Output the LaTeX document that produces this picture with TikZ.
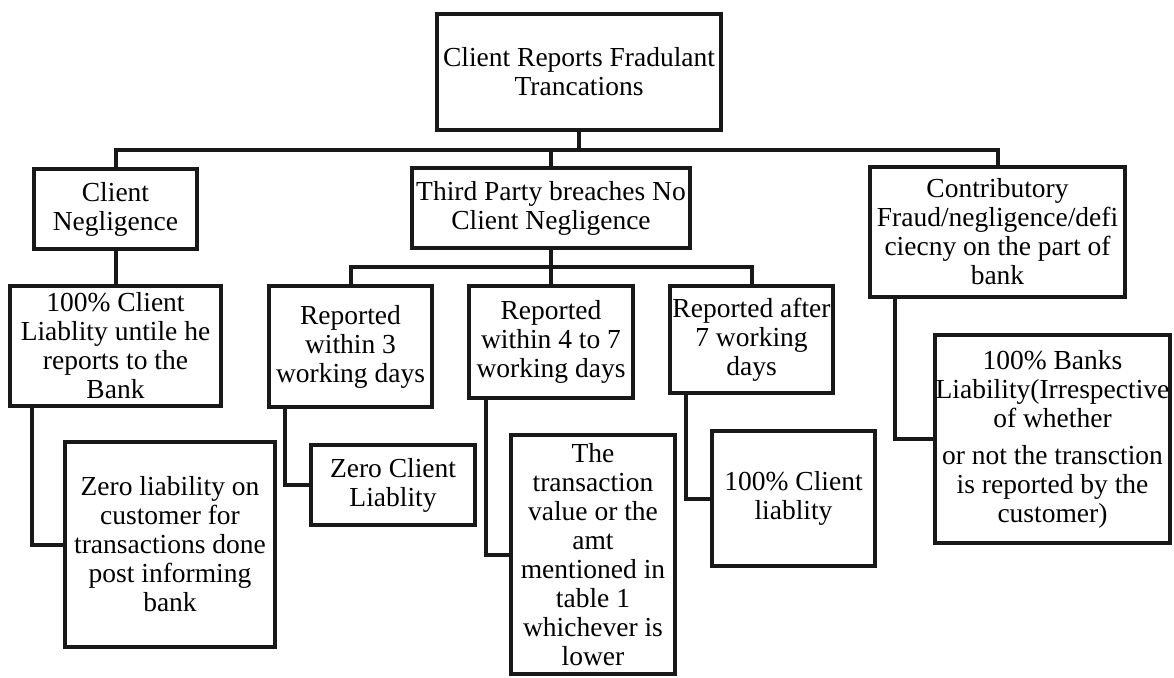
\documentclass[tikz,border=0pt]{standalone}
\usepackage{fontspec}
\setmainfont{Liberation Serif}
\usetikzlibrary{positioning}

\begin{document}
\begin{tikzpicture}[x=1pt, y=-1pt,
    box/.style={draw=black!90, line width=4pt, fill=white, align=center, inner sep=1pt,
      font=\fontsize{27.5}{29}\selectfont},
    link/.style={draw=black!90, line width=4pt}]
    \useasboundingbox[fill=white] (0,0) rectangle (1174,677);
    \node[box, minimum width=284pt, minimum height=116pt] (root) at (579,72) {Client Reports Fradulant\\Trancations};
    \node[box, minimum width=163pt, minimum height=80pt] (neg) at (115.5,209) {Client\\Negligence};
    \node[box, minimum width=278pt, minimum height=80pt] (third) at (551,208) {Third Party breaches No\\Client Negligence};
    \node[box, minimum width=255pt, minimum height=130pt] (contrib) at (997.5,232) {Contributory\\Fraud/negligence/defi\\ciecny on the part of\\bank};
    \node[box, minimum width=211pt, minimum height=120pt] (lia) at (115.5,346) {100\% Client\\Liablity untile he\\reports to the\\Bank};
    \node[box, minimum width=210pt, minimum height=205pt] (zero) at (170,544.5) {Zero liability on\\customer for\\transactions done\\post informing\\bank};
    \node[box, minimum width=163pt, minimum height=121pt] (rep3) at (350.5,346.5) {Reported\\within 3\\working days};
    \node[box, minimum width=164pt, minimum height=80pt] (zeroc) at (393,485) {Zero Client\\Liablity};
    \node[box, minimum width=164pt, minimum height=112pt] (rep47) at (551,342) {Reported\\within 4 to 7\\working days};
    \node[box, minimum width=164pt, minimum height=239pt] (amt) at (593,554.5) {The\\transaction\\value or the\\amt\\mentioned in\\table 1\\whichever is\\lower};
    \node[box, minimum width=163pt, minimum height=107pt] (rep8) at (751.5,339.5) {Reported after\\7 working\\days};
    \node[box, minimum width=163pt, minimum height=135pt] (full) at (793.5,498.5) {100\% Client\\liablity};
    \node[box, minimum width=235pt, minimum height=208pt] (bankl) at (1052.5,439) {100\% Banks\\Liability(Irrespective\\of whether\\[8pt]or not the transction\\is reported by the\\customer)};
    \coordinate (bus) at (580,150);
    \coordinate (bus2) at (551,267);
    \draw[link] (root.south) -- (root.south |- bus);
    \draw[link] (neg.north) |- (bus) -| (contrib.north);
    \draw[link] (third.north) -- (third.north |- bus);
    \draw[link] (third.south) -- (bus2) -- (rep47.north);
    \draw[link] (rep3.north) |- (bus2) -| (rep8.north);
    \draw[link] (neg.south) -- (lia.north);
    \draw[link] ([xshift=24pt]lia.south west) |- (zero.west);
    \draw[link] ([xshift=18pt]rep3.south west) |- (zeroc.west);
    \draw[link] ([xshift=19pt]rep47.south west) |- (amt.west);
    \draw[link] ([xshift=18pt]rep8.south west) |- (full.west);
    \draw[link] ([xshift=27pt]contrib.south west) |- (bankl.west);
\end{tikzpicture}
\end{document}
